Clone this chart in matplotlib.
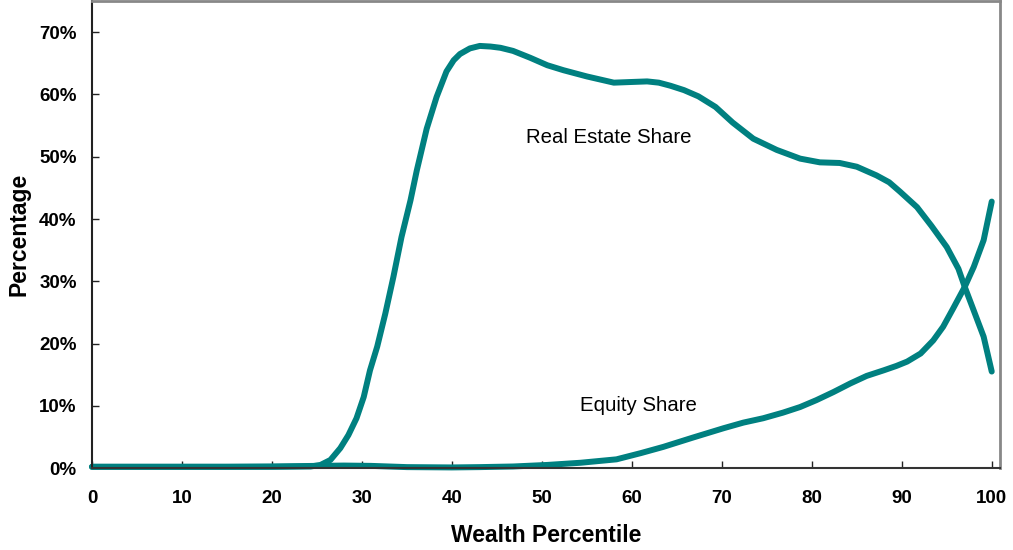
import numpy as np
import matplotlib
matplotlib.use("Agg")
import matplotlib.pyplot as plt
from matplotlib.ticker import PercentFormatter

plt.rcParams['font.family'] = ['Liberation Sans', 'DejaVu Sans']

# values (percent)
re_pct = [0, 5, 10, 15, 20, 24.3, 25.4, 26.5, 27.6, 28.5, 29.4, 30.2, 30.9,
          31.7, 32.6, 33.5, 34.4, 35.4, 36.1, 37.2, 38.3, 39.4, 40.2, 40.9,
          42.0, 43.1, 44.3, 45.4, 46.8, 48.7, 50.6, 52.4, 55.0, 58.0, 59.8,
          61.7, 63.0, 64.3, 65.8, 67.4, 69.3, 71.2, 73.5, 76.1, 78.7, 80.9,
          83.1, 85.0, 87.2, 88.6, 89.8, 91.7, 93.3, 95.0, 96.3, 97.0, 98.0,
          99.1, 100]
re_share = [0.2, 0.2, 0.2, 0.2, 0.2, 0.25, 0.5, 1.3, 3.2, 5.3, 8.0, 11.4, 15.7,
            19.5, 24.8, 30.7, 37.1, 43.0, 47.8, 54.5, 59.6, 63.7, 65.5, 66.5,
            67.4, 67.8, 67.7, 67.5, 67.0, 65.9, 64.7, 63.9, 62.9, 61.9, 62.0,
            62.1, 61.9, 61.4, 60.7, 59.7, 58.0, 55.5, 52.9, 51.1, 49.7, 49.1,
            49.0, 48.4, 47.0, 45.9, 44.4, 41.9, 38.9, 35.5, 32.0, 29.1, 25.3,
            21.1, 15.5]

eq_pct = [0, 5, 10, 15, 20, 25, 28, 31, 35, 40, 43.1, 46.8, 50.6, 54.3, 58.3,
          61.0, 63.5, 66.8, 70.2, 72.4, 74.6, 76.8, 78.7, 80.5, 82.4, 84.3,
          86.1, 88.0, 89.4, 90.6, 92.1, 93.5, 94.6, 95.7, 97.0, 98.0, 99.1,
          100]
eq_share = [0.2, 0.2, 0.2, 0.2, 0.25, 0.35, 0.4, 0.35, 0.15, 0.1, 0.15, 0.25,
            0.5, 0.85, 1.4, 2.4, 3.4, 4.9, 6.4, 7.3, 8.0, 8.9, 9.8, 10.9, 12.2,
            13.6, 14.8, 15.7, 16.4, 17.1, 18.4, 20.5, 22.7, 25.6, 29.1, 32.3,
            36.6, 42.8]

teal = '#008080'

fig = plt.figure(figsize=(10.13, 5.5), dpi=100)
ax = fig.add_axes([0.0908, 0.149, 0.8962, 0.849])

ax.plot(re_pct, np.array(re_share) / 100, color=teal, lw=4.3,
        solid_capstyle='round', solid_joinstyle='round', clip_on=False)
ax.plot(eq_pct, np.array(eq_share) / 100, color=teal, lw=4.3,
        solid_capstyle='round', solid_joinstyle='round', clip_on=False)

ax.text(57.4, 0.531, 'Real Estate Share', ha='center', va='center', fontsize=14.7)
ax.text(60.7, 0.101, 'Equity Share', ha='center', va='center', fontsize=14.7)

ax.set_xlim(0, 100.9)
ax.set_ylim(0, 0.75)
ax.set_xticks(np.arange(0, 101, 10))
ax.set_yticks(np.arange(0, 0.71, 0.1))
ax.yaxis.set_major_formatter(PercentFormatter(1.0, decimals=0))

ax.tick_params(axis='both', direction='in', length=5, width=1, color='#222222')
ax.tick_params(axis='x', pad=16)
ax.tick_params(axis='y', pad=11)
for lab in ax.get_xticklabels() + ax.get_yticklabels():
    lab.set_fontweight('bold')
    lab.set_fontsize(13.5)

ax.spines['left'].set_color('#222222')
ax.spines['bottom'].set_color('#333333')
ax.spines['left'].set_linewidth(1.5)
ax.spines['bottom'].set_linewidth(1.5)
for s in ('top', 'right'):
    ax.spines[s].set_color('#888888')
    ax.spines[s].set_linewidth(2)

ax.set_xlabel('Wealth Percentile', fontsize=16.5, fontweight='bold', labelpad=12)
ax.set_ylabel('Percentage', fontsize=16.5, fontweight='bold', labelpad=6)

fig.savefig('out.png', dpi=100)
